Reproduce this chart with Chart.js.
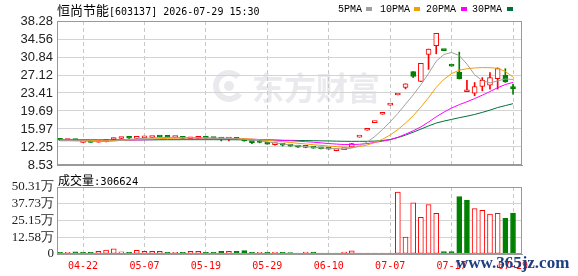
<!DOCTYPE html>
<html>
<head>
<meta charset="utf-8">
<script src="https://cdn.jsdelivr.net/npm/chart.js@4.4.1/dist/chart.umd.min.js"></script>
<style>
  body { margin: 0; background: #fff; width: 578px; height: 276px; overflow: hidden; position: relative; }
  canvas { position: absolute; left: 0; }
  #price { top: 0; }
  #vol { top: 172px; }
  .t { position: absolute; white-space: nowrap; line-height: 1; color: #000; z-index: 2; }
  .cjk { font-family: "Noto Sans CJK SC", sans-serif; }
  .mono { font-family: "DejaVu Sans Mono", monospace; }
  .lg { font-family: "Liberation Mono", monospace; font-size: 10px; top: 5px; }
  .sq { position: absolute; top: 7px; width: 6px; height: 4px; z-index: 2; }
  #site { left: 456px; top: 253px; font: bold 17px "Liberation Serif", serif; color: #1f3f80; }
</style>
</head>
<body>
<div class="t" style="left:57px;top:2px"><span class="cjk" style="font-size:13px">恒尚节能</span><span class="mono" style="font-size:10px">[603137] 2026-07-29 15:30</span></div>

<div class="t lg" style="left:338px">5PMA</div><div class="sq" style="left:366px;background:#a0a0a0"></div>
<div class="t lg" style="left:380px">10PMA</div><div class="sq" style="left:414px;background:#f0a000"></div>
<div class="t lg" style="left:426px">20PMA</div><div class="sq" style="left:461px;background:#ff00ff"></div>
<div class="t lg" style="left:472px">30PMA</div><div class="sq" style="left:507px;background:#00703a"></div>

<div class="t" style="left:58px;top:172px"><span class="cjk" style="font-size:12px">成交量</span><span class="mono" style="font-size:10.5px">:306624</span></div>

<canvas id="price" width="578" height="170"></canvas>
<canvas id="vol" width="578" height="104"></canvas>
<div class="t" id="site">www.365jz.com</div>

<script>
const dates = ['04-17','04-20','04-21','04-22','04-23','04-24','04-27','04-28','04-29','04-30',
  '05-06','05-07','05-08','05-11','05-12','05-13','05-14','05-15','05-18','05-19',
  '05-20','05-21','05-22','05-25','05-26','05-27','05-28','05-29','06-01','06-02',
  '06-03','06-04','06-05','06-08','06-09','06-10','06-11','06-12','06-30','07-01',
  '07-02','07-03','07-06','07-07','07-08','07-09','07-10','07-13','07-14','07-15',
  '07-16','07-17','07-20','07-21','07-22','07-23','07-24','07-27','07-28','07-29']

const opens = [13.70,13.60,13.68,13.22,13.30,13.25,13.35,13.80,14.00,14.12,
  14.04,14.15,14.22,14.35,14.32,14.22,14.20,13.95,14.02,14.10,
  14.05,13.98,13.88,13.95,13.62,13.25,13.35,12.98,12.74,12.72,
  12.52,12.32,12.18,12.12,11.96,11.90,11.50,11.70,12.25,14.28,
  15.71,17.28,19.01,20.91,23.00,24.54,27.83,25.80,31.35,33.20,
  32.17,28.95,27.73,23.67,23.38,24.75,25.01,26.38,27.06,24.40]
const highs = [13.75,13.72,13.70,13.30,13.32,13.38,13.55,14.10,14.12,14.14,
  14.15,14.30,14.32,14.36,14.34,14.28,14.22,14.06,14.12,14.12,
  14.08,14.00,13.98,13.98,13.65,13.28,13.38,13.02,12.88,12.75,
  12.55,12.35,12.28,12.15,11.98,11.92,11.62,11.85,12.98,14.28,
  15.71,17.28,19.01,20.91,23.00,25.30,27.83,29.54,32.49,35.74,
  32.17,28.95,31.85,26.04,25.57,26.59,27.61,28.60,28.43,25.22]
const lows = [13.60,13.58,13.55,13.20,13.20,13.22,13.32,13.78,13.98,14.02,
  14.02,14.12,14.20,14.28,14.22,14.18,14.00,13.92,14.00,14.02,
  13.96,13.50,13.50,13.80,13.45,12.95,13.10,12.82,12.65,12.45,
  12.38,12.15,12.10,11.98,11.84,11.80,11.45,11.68,12.20,14.28,
  15.71,17.28,19.01,20.91,23.00,24.26,26.59,25.77,28.28,31.49,
  32.17,28.95,26.30,23.67,22.83,23.85,24.20,24.20,25.60,23.17]
const closes = [13.65,13.68,13.60,13.28,13.22,13.35,13.50,13.92,14.10,14.05,
  14.12,14.20,14.30,14.32,14.25,14.26,14.02,14.05,14.10,14.05,
  14.00,13.90,13.95,13.85,13.50,13.15,13.22,12.84,12.86,12.62,
  12.42,12.22,12.26,12.02,11.88,11.82,11.60,11.80,12.98,14.28,
  15.71,17.28,19.01,20.91,23.00,25.30,26.85,29.54,32.49,35.74,
  32.17,28.95,26.30,23.75,24.75,26.04,26.59,28.43,25.69,24.30]
const volumes = [12000,12000,17000,12000,12000,20000,30000,39000,17000,12000,
  27000,20000,20000,20000,12000,12000,12000,20000,20000,12000,
  12000,20000,20000,20000,25000,12000,12000,12000,12000,12000,
  10000,7000,15000,14000,7000,7000,7000,14000,24000,7000,
  7000,7000,7000,7000,465000,127000,385000,275000,372000,305000,
  18000,18000,432000,404000,341000,328000,300000,305000,268000,306624]

const ma5 = [13.62,13.60,13.56,13.50,13.44,13.38,13.40,13.48,13.62,13.78,
  13.94,14.06,14.12,14.18,14.22,14.26,14.20,14.16,14.14,14.10,
  14.04,14.02,13.99,13.95,13.84,13.67,13.53,13.31,13.11,12.88,
  12.70,12.50,12.36,12.20,12.06,11.96,11.88,11.82,12.02,12.50,
  13.27,14.41,15.85,17.44,19.18,21.10,23.01,25.12,27.44,29.98,
  31.36,31.78,31.13,29.38,27.18,25.96,25.49,25.91,26.30,26.21]
const ma10 = [13.72,13.70,13.68,13.64,13.60,13.56,13.55,13.58,13.62,13.72,
  13.80,13.86,13.92,13.98,14.04,14.08,14.12,14.14,14.14,14.12,
  14.10,14.08,14.06,14.04,13.98,13.88,13.75,13.62,13.48,13.34,
  13.18,13.02,12.88,12.72,12.58,12.44,12.32,12.22,12.16,12.33,
  12.66,13.16,13.84,14.73,15.84,17.19,18.71,20.49,22.44,24.58,
  26.23,27.40,28.13,28.41,28.58,28.66,28.63,28.52,27.84,26.70]
const ma20 = [13.55,13.55,13.55,13.55,13.55,13.58,13.60,13.60,13.64,13.68,
  13.70,13.74,13.76,13.80,13.82,13.85,13.86,13.86,13.88,13.90,
  13.90,13.90,13.90,13.88,13.88,13.85,13.80,13.75,13.68,13.60,
  13.54,13.45,13.35,13.24,13.10,12.96,12.85,12.76,12.75,12.82,
  12.95,13.20,13.45,13.75,14.25,14.90,15.60,16.40,17.40,18.50,
  19.45,20.30,21.00,21.60,22.25,22.95,23.70,24.50,25.15,25.60]
const ma30 = [13.78,13.77,13.76,13.75,13.74,13.73,13.72,13.72,13.72,13.72,
  13.73,13.73,13.74,13.74,13.75,13.75,13.76,13.76,13.76,13.76,
  13.76,13.75,13.75,13.74,13.73,13.72,13.70,13.68,13.66,13.64,
  13.62,13.60,13.58,13.55,13.52,13.50,13.46,13.43,13.42,13.42,
  13.43,13.47,13.58,13.80,14.20,14.70,15.30,15.95,16.60,17.20,
  17.60,17.95,18.30,18.62,18.97,19.40,19.87,20.40,20.80,21.20]

const tickIdx = [3, 11, 19, 27, 35, 43, 51, 59]
const priceTicks = [8.53, 12.25, 15.97, 19.69, 23.41, 27.12, 30.84, 34.56, 38.28]
const volTicks = [0, 125775, 251550, 377325, 503100]
const volTickLabels = ['0', '12.58万', '25.15万', '37.73万', '50.31万']

const RED = '#ff0000'
const GREEN = '#008000'

// candle colour: body direction, flat bodies by change from previous close
function candleUp(i) {
  if (closes[i] !== opens[i]) return closes[i] > opens[i]
  return i === 0 || closes[i] >= closes[i - 1]
}
// volume colour: change from previous close
function volUp(i) {
  return i === 0 ? closes[i] >= opens[i] : closes[i] >= closes[i - 1]
}

function xAxis(showLabels) {
  return {
    type: 'linear', min: -0.39, max: 60.17, offset: false,
    afterBuildTicks: ax => { ax.ticks = tickIdx.map(v => ({ value: v })) },
    afterFit: ax => { ax.height = showLabels ? 22 : 0; ax.paddingLeft = 0; ax.paddingRight = 0 },
    grid: { color: '#c8c8c8', drawTicks: false, offset: false },
    border: { display: true, color: '#999', dash: [4, 3] },
    ticks: {
      display: showLabels, autoSkip: false, maxRotation: 0, padding: 6, color: RED,
      font: { family: 'DejaVu Sans Mono', size: 10 },
      callback: v => dates[v]
    }
  }
}

function yFit(ax) {
  ax.width = 57
  ax.paddingTop = 0
  ax.paddingBottom = 0
}

const frame = {
  id: 'frame',
  afterDraw(chart) {
    const { ctx, chartArea: a } = chart
    ctx.save()
    ctx.strokeStyle = '#999'
    ctx.lineWidth = 1
    ctx.strokeRect(Math.round(a.left) + 0.5, Math.round(a.top) + 0.5,
      Math.round(a.right - a.left) - 1, Math.round(a.bottom - a.top) - 1)
    ctx.restore()
  }
}

const watermark = {
  id: 'watermark',
  beforeDraw(chart) {
    const ctx = chart.ctx
    ctx.save()
    ctx.fillStyle = '#eaeaee'
    ctx.strokeStyle = '#eaeaee'
    ctx.font = 'bold 32px "Noto Sans CJK SC"'
    ctx.textBaseline = 'middle'
    ctx.fillText('东方财富', 252, 88)
    ctx.lineWidth = 6
    ctx.beginPath()
    ctx.arc(229, 86, 13, Math.PI * 0.2, Math.PI * 1.75)
    ctx.stroke()
    ctx.beginPath()
    ctx.arc(229, 86, 5, 0, Math.PI * 2)
    ctx.fill()
    ctx.restore()
  }
}

function maLine(label, values, color) {
  return {
    type: 'line', label: label,
    data: values.map((v, i) => ({ x: i, y: v })),
    borderColor: color, borderWidth: 1, pointRadius: 0, tension: 0, order: 0
  }
}

new Chart(document.getElementById('price'), {
  type: 'bar',
  data: {
    datasets: [
      maLine('5PMA', ma5, '#a0a0a0'),
      maLine('10PMA', ma10, '#f0a000'),
      maLine('20PMA', ma20, '#ff00ff'),
      maLine('30PMA', ma30, '#00703a'),
      {
        label: 'body',
        data: opens.map((o, i) => ({ x: i, y: [o, closes[i]] })),
        backgroundColor: c => candleUp(c.dataIndex) ? '#fff' : GREEN,
        borderColor: c => candleUp(c.dataIndex) ? RED : GREEN,
        borderWidth: 1, borderSkipped: false, barThickness: 5, minBarLength: 2,
        grouped: false, order: 1
      },
      {
        label: 'wick',
        data: lows.map((l, i) => ({ x: i, y: [l, highs[i]] })),
        backgroundColor: c => candleUp(c.dataIndex) ? RED : GREEN,
        barThickness: 1, grouped: false, order: 2
      }
    ]
  },
  options: {
    responsive: false, animation: false, devicePixelRatio: 1,
    layout: { padding: { top: 21, right: 56, bottom: 5, left: 0 } },
    plugins: { legend: { display: false }, tooltip: { enabled: false } },
    scales: {
      x: xAxis(false),
      y: {
        min: 8.53, max: 38.28,
        afterBuildTicks: ax => { ax.ticks = priceTicks.map(v => ({ value: v })) },
        afterFit: yFit,
        grid: { color: '#d4d4d4', drawTicks: false },
        border: { color: '#999' },
        ticks: { autoSkip: false, padding: 4, color: '#222', font: { family: 'Liberation Sans', size: 13 }, callback: v => v.toFixed(2) }
      }
    }
  },
  plugins: [watermark, frame]
})

new Chart(document.getElementById('vol'), {
  type: 'bar',
  data: {
    datasets: [{
      label: '成交量',
      data: volumes.map((v, i) => ({ x: i, y: v })),
      backgroundColor: c => volUp(c.dataIndex) ? '#fff' : GREEN,
      borderColor: c => volUp(c.dataIndex) ? RED : GREEN,
      borderWidth: 1, borderSkipped: false, barThickness: 5, grouped: false
    }]
  },
  options: {
    responsive: false, animation: false, devicePixelRatio: 1,
    layout: { padding: { top: 15, right: 56, bottom: 0, left: 0 } },
    plugins: { legend: { display: false }, tooltip: { enabled: false } },
    scales: {
      x: xAxis(true),
      y: {
        min: 0, max: 503100,
        afterBuildTicks: ax => { ax.ticks = volTicks.map(v => ({ value: v })) },
        afterFit: yFit,
        grid: { color: '#d4d4d4', drawTicks: false },
        border: { color: '#999' },
        ticks: { autoSkip: false, padding: 3, color: '#222', font: { family: 'Liberation Serif', size: 13 }, callback: (v, i) => volTickLabels[i] }
      }
    }
  },
  plugins: [frame]
})
</script>
</body>
</html>
